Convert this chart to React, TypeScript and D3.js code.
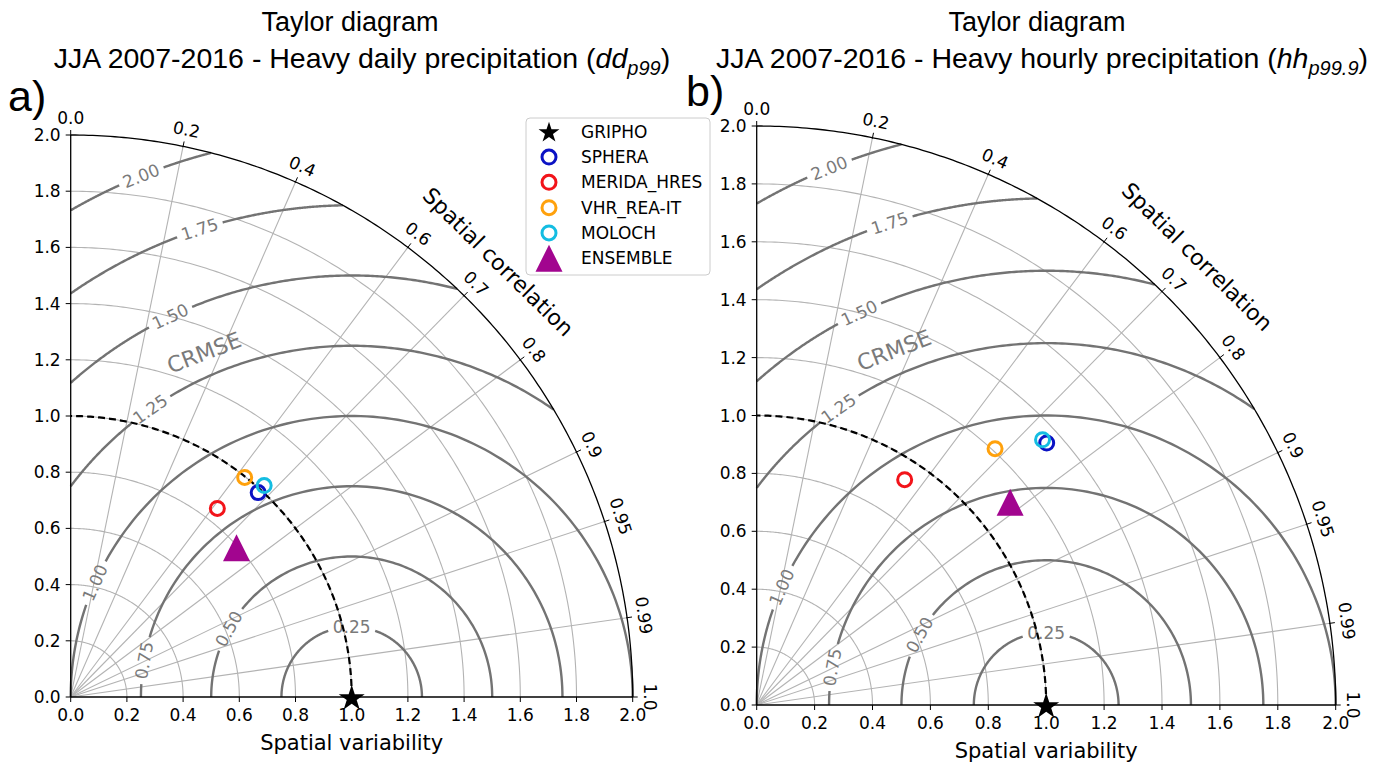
import React, { useEffect, useRef } from 'react';
import * as d3 from 'd3';

// models drawn as open circles, in drawing order
const models = ['SPHERA', 'MERIDA_HRES', 'VHR_REA-IT', 'MOLOCH'];
const modelColors = ['#0b12c4', '#f2141a', '#ffa10c', '#14bde2'];
const ensembleColor = '#a2058f';

// panel a) heavy daily precipitation: standard deviation (normalised) and correlation
const dailyStd = [0.987, 0.85, 0.997, 1.02];
const dailyCorr = [0.676, 0.614, 0.621, 0.675];
const dailyEnsStd = 0.794;
const dailyEnsCorr = 0.743;

// panel b) heavy hourly precipitation
const hourlyStd = [1.35, 0.931, 1.209, 1.347];
const hourlyCorr = [0.742, 0.549, 0.681, 0.733];
const hourlyEnsStd = 1.121;
const hourlyEnsCorr = 0.781;

// reference (GRIPHO)
const refStd = 1.0;
const refCorr = 1.0;

const legendNames = ['GRIPHO', 'SPHERA', 'MERIDA_HRES', 'VHR_REA-IT', 'MOLOCH', 'ENSEMBLE'];

const corrTicks = [0.0, 0.2, 0.4, 0.6, 0.7, 0.8, 0.9, 0.95, 0.99, 1.0];
const corrTickLabels = ['0.0', '0.2', '0.4', '0.6', '0.7', '0.8', '0.9', '0.95', '0.99', '1.0'];
const corrGrid = [0.2, 0.4, 0.6, 0.7, 0.8, 0.9, 0.95, 0.99];
const stdTicks = [0.0, 0.2, 0.4, 0.6, 0.8, 1.0, 1.2, 1.4, 1.6, 1.8, 2.0];
const stdTickLabels = ['0.0', '0.2', '0.4', '0.6', '0.8', '1.0', '1.2', '1.4', '1.6', '1.8', '2.0'];
const stdGrid = [0.2, 0.4, 0.6, 0.8, 1.0, 1.2, 1.4, 1.6, 1.8];
const rmsLevels = [0.25, 0.5, 0.75, 1.0, 1.25, 1.5, 1.75, 2.0];
const rmsLabels = ['0.25', '0.50', '0.75', '1.00', '1.25', '1.50', '1.75', '2.00'];
// angle (deg) around the reference point where each contour label sits
const rmsLabelAngles = [90, 151, 170, 156, 125, 115.5, 108, 112];

const TICK_FONT = 'DejaVu Sans, sans-serif';
const TITLE_FONT = 'Liberation Sans, Arial, sans-serif';

const panels = [
  {
    ox: 70.7, oy: 697, R: 562,
    std: dailyStd, corr: dailyCorr, ensStd: dailyEnsStd, ensCorr: dailyEnsCorr,
    title1X: 350, title2X: 362,
    sub1: 'JJA 2007-2016 - Heavy daily precipitation (', ital: 'dd', sub: 'p99',
    letter: 'a)', letterX: 8, letterY: 111, legend: true,
  },
  {
    ox: 756.7, oy: 705, R: 579,
    std: hourlyStd, corr: hourlyCorr, ensStd: hourlyEnsStd, ensCorr: hourlyEnsCorr,
    title1X: 1037, title2X: 1042,
    sub1: 'JJA 2007-2016 - Heavy hourly precipitation (', ital: 'hh', sub: 'p99.9',
    letter: 'b)', letterX: 686, letterY: 106, legend: false,
  },
];

const trianglePath = (h: number) => `M0,${-h}L${h},${h}L${-h},${h}Z`;

function drawPanel(svg: any, p: any) {
  const x = d3.scaleLinear().domain([0, 2]).range([p.ox, p.ox + p.R]);
  const y = d3.scaleLinear().domain([0, 2]).range([p.oy, p.oy - p.R]);
  const pxPerUnit = p.R / 2;
  const line = d3.line<[number, number]>().x(d => x(d[0])).y(d => y(d[1]));
  const g = svg.append('g');

  const polarArc = (r: number, a0: number, a1: number) =>
    d3.range(0, 201).map(i => {
      const a = a0 + (a1 - a0) * i / 200;
      return [r * Math.cos(a), r * Math.sin(a)] as [number, number];
    });

  // light grid: std arcs and correlation rays
  stdGrid.forEach(s => {
    g.append('path').attr('d', line(polarArc(s, 0, Math.PI / 2)))
      .attr('fill', 'none').attr('stroke', '#b3b3b3').attr('stroke-width', 1.1);
  });
  corrGrid.forEach(c => {
    const a = Math.acos(c);
    g.append('line')
      .attr('x1', x(0)).attr('y1', y(0))
      .attr('x2', x(2 * Math.cos(a))).attr('y2', y(2 * Math.sin(a)))
      .attr('stroke', '#b3b3b3').attr('stroke-width', 1.1);
  });

  // CRMSE contours centred on the reference point with inline labels
  rmsLevels.forEach((c, i) => {
    const phiMin = Math.acos(Math.min(1, (3 - c * c) / (2 * c)));
    const phiMax = Math.acos(Math.max(-1, -1 / c));
    const la = rmsLabelAngles[i] * Math.PI / 180;
    const lx = refStd + c * Math.cos(la);
    const ly = c * Math.sin(la);
    const rot = -(rmsLabelAngles[i] - 90);
    const label = g.append('text')
      .attr('transform', `translate(${x(lx)},${y(ly)}) rotate(${rot})`)
      .attr('text-anchor', 'middle').attr('dominant-baseline', 'central')
      .attr('font-family', TICK_FONT).attr('font-size', 17).attr('fill', '#7a7a7a')
      .text(rmsLabels[i]);
    const w = (label.node() as SVGTextElement).getComputedTextLength();
    const gap = (w / 2 + 5) / (c * pxPerUnit);
    const ranges: [number, number][] = [[phiMin, la - gap], [la + gap, phiMax]];
    ranges.forEach(([a0, a1]) => {
      if (a1 <= a0) return;
      const pts = d3.range(0, 121).map(k => {
        const a = a0 + (a1 - a0) * k / 120;
        return [refStd + c * Math.cos(a), c * Math.sin(a)] as [number, number];
      });
      g.append('path').attr('d', line(pts))
        .attr('fill', 'none').attr('stroke', '#737373').attr('stroke-width', 2.4);
    });
  });

  // CRMSE label
  g.append('text')
    .attr('transform', `translate(${x(0.475)},${y(1.225)}) rotate(-21)`)
    .attr('text-anchor', 'middle').attr('dominant-baseline', 'central')
    .attr('font-family', TICK_FONT).attr('font-size', 22).attr('fill', '#7a7a7a')
    .text('CRMSE');

  // reference std arc (dashed)
  g.append('path').attr('d', line(polarArc(refStd, 0, Math.PI / 2)))
    .attr('fill', 'none').attr('stroke', '#000').attr('stroke-width', 2.2)
    .attr('stroke-dasharray', '7,4');

  // outer arc and axes
  g.append('path').attr('d', line(polarArc(2, 0, Math.PI / 2)))
    .attr('fill', 'none').attr('stroke', '#000').attr('stroke-width', 1.3);
  g.append('line').attr('x1', x(0)).attr('y1', y(0)).attr('x2', x(2)).attr('y2', y(0))
    .attr('stroke', '#000').attr('stroke-width', 1.3);
  g.append('line').attr('x1', x(0)).attr('y1', y(0)).attr('x2', x(0)).attr('y2', y(2))
    .attr('stroke', '#000').attr('stroke-width', 1.3);

  // std ticks on x and y axes
  stdTicks.forEach((s, i) => {
    g.append('line').attr('x1', x(s)).attr('x2', x(s)).attr('y1', y(0)).attr('y2', y(0) + 5)
      .attr('stroke', '#000').attr('stroke-width', 1);
    g.append('text').attr('x', x(s)).attr('y', y(0) + 24)
      .attr('text-anchor', 'middle').attr('font-family', TICK_FONT).attr('font-size', 17)
      .text(stdTickLabels[i]);
    g.append('line').attr('x1', x(0) - 5).attr('x2', x(0)).attr('y1', y(s)).attr('y2', y(s))
      .attr('stroke', '#000').attr('stroke-width', 1);
    g.append('text').attr('x', x(0) - 10).attr('y', y(s))
      .attr('text-anchor', 'end').attr('dominant-baseline', 'central')
      .attr('font-family', TICK_FONT).attr('font-size', 17)
      .text(stdTickLabels[i]);
  });

  // correlation ticks on the outer arc
  corrTicks.forEach((c, i) => {
    const a = Math.acos(c);
    const ca = Math.cos(a), sa = Math.sin(a);
    g.append('line')
      .attr('x1', x(0) + (p.R - 1) * ca).attr('y1', y(0) - (p.R - 1) * sa)
      .attr('x2', x(0) + (p.R + 5) * ca).attr('y2', y(0) - (p.R + 5) * sa)
      .attr('stroke', '#000').attr('stroke-width', 1);
    const rr = p.R + 17;
    const rot = 90 - a * 180 / Math.PI;
    g.append('text')
      .attr('transform', `translate(${x(0) + rr * ca},${y(0) - rr * sa}) rotate(${rot})`)
      .attr('text-anchor', 'middle').attr('dominant-baseline', 'central')
      .attr('font-family', TICK_FONT).attr('font-size', 17)
      .text(corrTickLabels[i]);
  });

  // axis titles
  const ra = 45.5 * Math.PI / 180;
  const rl = p.R * 1.085;
  g.append('text')
    .attr('transform', `translate(${x(0) + rl * Math.cos(ra)},${y(0) - rl * Math.sin(ra)}) rotate(${90 - 45.5})`)
    .attr('text-anchor', 'middle').attr('dominant-baseline', 'central')
    .attr('font-family', TICK_FONT).attr('font-size', 22)
    .text('Spatial correlation');
  g.append('text').attr('x', x(1)).attr('y', y(0) + 53)
    .attr('text-anchor', 'middle').attr('font-family', TICK_FONT).attr('font-size', 21)
    .text('Spatial variability');

  // model points
  const toXY = (s: number, c: number) => [x(s * c), y(s * Math.sin(Math.acos(c)))];
  p.std.forEach((s: number, i: number) => {
    const [px, py] = toXY(s, p.corr[i]);
    g.append('circle').attr('cx', px).attr('cy', py).attr('r', 7)
      .attr('fill', 'none').attr('stroke', modelColors[i]).attr('stroke-width', 3);
  });
  const [ex, ey] = toXY(p.ensStd, p.ensCorr);
  g.append('path').attr('d', trianglePath(13.5)).attr('transform', `translate(${ex},${ey})`)
    .attr('fill', ensembleColor);
  const [rx, ry] = toXY(refStd, refCorr);
  g.append('path').attr('d', d3.symbol(d3.symbolStar, 210)())
    .attr('transform', `translate(${rx},${ry + 1.5})`).attr('fill', '#000');

  // titles
  g.append('text').attr('x', p.title1X).attr('y', 31)
    .attr('text-anchor', 'middle').attr('font-family', TITLE_FONT).attr('font-size', 27)
    .text('Taylor diagram');
  const t2 = g.append('text').attr('x', p.title2X).attr('y', 68)
    .attr('text-anchor', 'middle').attr('font-family', TITLE_FONT).attr('font-size', 28.5);
  t2.append('tspan').text(p.sub1);
  t2.append('tspan').attr('font-style', 'italic').text(p.ital);
  t2.append('tspan').attr('font-style', 'italic').attr('font-size', 20).attr('dy', 7).text(p.sub);
  t2.append('tspan').attr('dy', -7).text(')');
  g.append('text').attr('x', p.letterX).attr('y', p.letterY)
    .attr('font-family', TITLE_FONT).attr('font-size', 43)
    .text(p.letter);

  if (p.legend) {
    const lg = svg.append('g');
    lg.append('rect').attr('x', 526).attr('y', 118).attr('width', 184).attr('height', 157)
      .attr('rx', 4).attr('fill', '#fff').attr('fill-opacity', 0.85)
      .attr('stroke', '#cccccc').attr('stroke-width', 1);
    const ly = d3.scaleLinear().domain([0, 5]).range([131.7, 258.3]);
    legendNames.forEach((name, i) => {
      const cy = ly(i);
      if (i === 0) {
        lg.append('path').attr('d', d3.symbol(d3.symbolStar, 135)())
          .attr('transform', `translate(549,${cy + 1})`).attr('fill', '#000');
      } else if (i === 5) {
        lg.append('path').attr('d', trianglePath(13.5)).attr('transform', `translate(549,${cy})`)
          .attr('fill', ensembleColor);
      } else {
        lg.append('circle').attr('cx', 549).attr('cy', cy).attr('r', 7)
          .attr('fill', 'none').attr('stroke', modelColors[i - 1]).attr('stroke-width', 3);
      }
      lg.append('text').attr('x', 581).attr('y', cy).attr('dominant-baseline', 'central')
        .attr('font-family', TICK_FONT).attr('font-size', 17).text(name);
    });
  }
}

export default function App() {
  const svgRef = useRef<SVGSVGElement>(null);

  useEffect(() => {
    const svg = d3.select(svgRef.current);
    svg.selectAll('*').remove();
    svg.append('rect').attr('width', 1376).attr('height', 763).attr('fill', '#fff');
    panels.forEach(p => drawPanel(svg, p));
  }, []);

  return (
    <svg ref={svgRef} width={1376} height={763}
      style={{ position: 'absolute', left: 0, top: 0, display: 'block' }} />
  );
}
